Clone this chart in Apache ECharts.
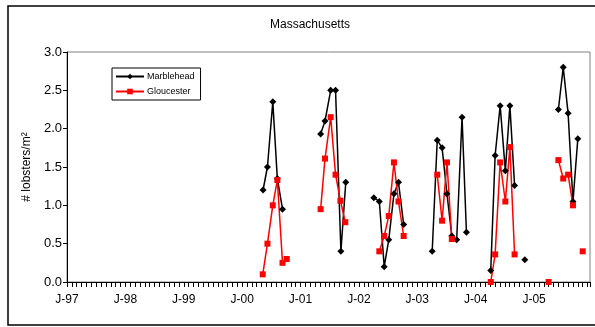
<!DOCTYPE html>
<html>
<head>
<meta charset="utf-8">
<script src="https://cdn.jsdelivr.net/npm/echarts@6/dist/echarts.min.js"></script>
<style>
  html, body { margin: 0; padding: 0; background: #fff; }
  #chart { width: 595px; height: 327px; }
</style>
</head>
<body>
<div id="chart"></div>
<script>
// Massachusetts lobster density, sampling dates and values (null = gap in line)
var marbleheadDates = [
  "2000-05-10", "2000-06-07", "2000-07-10", "2000-08-08", "2000-09-10", null,
  "2001-05-05", "2001-06-02", "2001-07-07", "2001-08-07", "2001-09-10", "2001-10-10", null,
  "2002-04-03", "2002-05-07", "2002-06-07", "2002-07-05", "2002-08-07", "2002-09-05", "2002-10-07", null,
  "2003-04-03", "2003-05-04", "2003-06-04", "2003-07-04", "2003-08-04", "2003-09-04", "2003-10-07", "2003-11-04", null,
  "2004-04-04", "2004-05-01", "2004-06-02", "2004-07-04", "2004-08-02", "2004-09-01", null,
  "2004-11-04", null,
  "2005-06-01", "2005-07-01", "2005-08-01", "2005-09-01", "2005-10-01"
];
var marbleheadValues = [
  1.20, 1.50, 2.35, 1.35, 0.95, null,
  1.93, 2.10, 2.50, 2.50, 0.40, 1.30, null,
  1.10, 1.05, 0.20, 0.55, 1.15, 1.30, 0.75, null,
  0.40, 1.85, 1.75, 1.15, 0.60, 0.55, 2.15, 0.65, null,
  0.15, 1.65, 2.30, 1.45, 2.30, 1.26, null,
  0.29, null,
  2.25, 2.80, 2.20, 1.05, 1.87
];

var gloucesterDates = [
  "2000-05-08", "2000-06-07", "2000-07-10", "2000-08-08", "2000-09-10", "2000-10-06", null,
  "2001-05-05", "2001-06-02", "2001-07-07", "2001-08-07", "2001-09-07", "2001-10-07", null,
  "2002-05-07", "2002-06-07", "2002-07-05", "2002-08-07", "2002-09-05", "2002-10-07", null,
  "2003-05-04", "2003-06-04", "2003-07-04", "2003-08-04", null,
  "2004-04-04", "2004-05-01", "2004-06-02", "2004-07-04", "2004-08-02", "2004-09-01", null,
  "2005-04-01", null,
  "2005-06-01", "2005-07-01", "2005-08-01", "2005-09-01", null,
  "2005-11-01"
];
var gloucesterValues = [
  0.10, 0.50, 1.00, 1.33, 0.25, 0.30, null,
  0.95, 1.61, 2.15, 1.40, 1.06, 0.78, null,
  0.40, 0.60, 0.86, 1.56, 1.05, 0.60, null,
  1.40, 0.80, 1.56, 0.56, null,
  0.00, 0.36, 1.56, 1.05, 1.76, 0.36, null,
  0.00, null,
  1.59, 1.35, 1.40, 1.00, null,
  0.40
];

var yearLabels = ["J-97", "J-98", "J-99", "J-00", "J-01", "J-02", "J-03", "J-04", "J-05"];

// months since Jan 1997
function toMonths(d) {
  var p = d.split("-");
  return (+p[0] - 1997) * 12 + (+p[1] - 1) + (+p[2] - 1) / 30;
}

function pairs(dates, values) {
  var out = [];
  var last = 0;
  for (var i = 0; i < dates.length; i++) {
    if (dates[i] === null) {
      out.push([last + 0.1, null]);
    } else {
      last = toMonths(dates[i]);
      out.push([last, values[i]]);
    }
  }
  return out;
}

var dom = document.getElementById("chart");
var myChart = echarts.init(dom);

var font = "Liberation Sans, Arial, sans-serif";

var option = {
  animation: false,
  backgroundColor: "#fff",
  title: {
    text: "Massachusetts",
    left: 305,
    top: 14,
    textAlign: "center",
    textStyle: { fontFamily: font, fontSize: 12, fontWeight: "normal", color: "#000" },
  },
  legend: {
    orient: "vertical",
    left: 112,
    top: 68,
    itemWidth: 28,
    itemHeight: 7,
    itemGap: 6,
    padding: [4, 6, 4, 3],
    borderColor: "#000",
    borderWidth: 1,
    backgroundColor: "#fff",
    textStyle: { fontFamily: font, fontSize: 9, color: "#000", padding: [0, 0, 0, -2] },
    data: ["Marblehead", "Gloucester"],
  },
  grid: {
    left: 67,
    right: 5,
    top: 52,
    bottom: 45,
    show: true,
    borderColor: "#808080",
    borderWidth: 1,
    backgroundColor: "#fff",
  },
  xAxis: {
    type: "value",
    min: 0,
    max: 107.5,
    interval: 12,
    axisLine: { onZero: false, lineStyle: { color: "#000", width: 1 } },
    axisTick: { inside: false, length: 5, lineStyle: { color: "#000" } },
    minorTick: { show: true, splitNumber: 12, length: 5, lineStyle: { color: "#000" } },
    splitLine: { show: false },
    axisLabel: {
      margin: 12,
      fontFamily: font,
      fontSize: 12,
      color: "#000",
      showMaxLabel: false,
      formatter: function (v) {
        if (v % 12 !== 0) return "";
        return yearLabels[v / 12] || "";
      },
    },
  },
  yAxis: {
    type: "value",
    min: 0,
    max: 3,
    interval: 0.5,
    name: "# lobsters/m²",
    nameLocation: "middle",
    nameGap: 32,
    nameTextStyle: { fontFamily: font, fontSize: 12, color: "#000" },
    axisLine: { show: true, lineStyle: { color: "#000", width: 1 } },
    axisTick: { show: true, inside: false, length: 4, lineStyle: { color: "#000" } },
    splitLine: { show: false },
    axisLabel: {
      margin: 5,
      fontFamily: font,
      fontSize: 13,
      color: "#000",
      formatter: function (v) { return v.toFixed(1); },
    },
  },
  graphic: [
    {
      type: "rect",
      shape: { x: 8, y: 6, width: 600, height: 319 },
      style: { fill: "none", stroke: "#000", lineWidth: 1.5 },
      z: 100,
    },
  ],
  series: [
    {
      name: "Marblehead",
      type: "line",
      data: pairs(marbleheadDates, marbleheadValues),
      symbol: "diamond",
      symbolSize: 7,
      connectNulls: false,
      itemStyle: { color: "#000" },
      lineStyle: { color: "#000", width: 1.5 },
    },
    {
      name: "Gloucester",
      type: "line",
      data: pairs(gloucesterDates, gloucesterValues),
      symbol: "rect",
      symbolSize: 6,
      connectNulls: false,
      itemStyle: { color: "#ff0000" },
      lineStyle: { color: "#ff0000", width: 1.5 },
    },
  ],
};

if (option && typeof option === "object") {
  myChart.setOption(option);
}
</script>
</body>
</html>
